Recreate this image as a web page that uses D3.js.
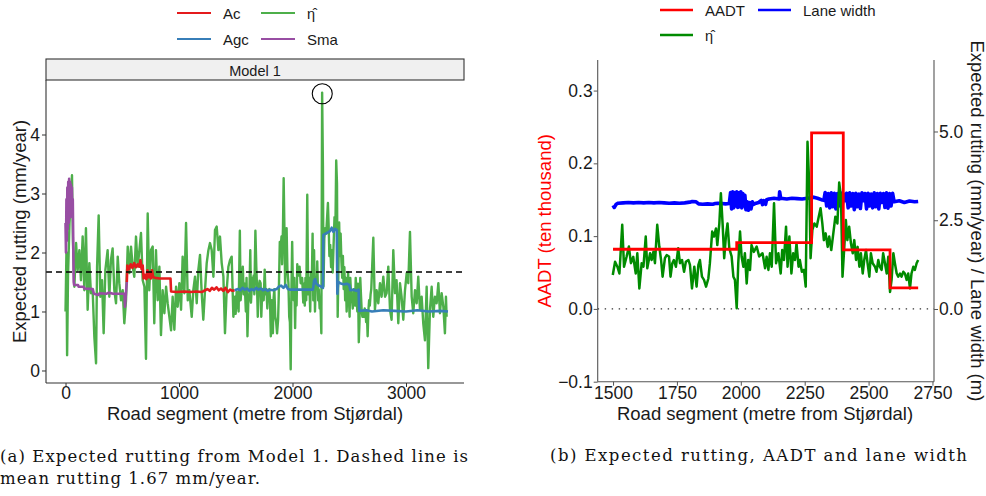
<!DOCTYPE html>
<html><head><meta charset="utf-8">
<script src="https://cdn.jsdelivr.net/npm/d3@7"></script>
<style>
body{margin:0;background:#fff}
svg{display:block}
text{font-family:"Liberation Sans",Arial,Helvetica,sans-serif}
.cap{font-family:"DejaVu Serif","Liberation Serif",serif}
</style>
</head><body>
<svg id="c" width="986" height="496"></svg>
<script>
// ---------- DATA ----------
const meanRutting = 1.67;
const leftXTicks = [0, 1000, 2000, 3000];
const leftYTicks = [0, 1, 2, 3, 4];
const rightXTicks = [1500, 1750, 2000, 2250, 2500, 2750];
const aadtTicks = [-0.1, 0.0, 0.1, 0.2, 0.3];
const aadtTickLabels = ["\u22120.1", "0.0", "0.1", "0.2", "0.3"];
const ruttingTicks = [0, 2.5, 5];
const ruttingTickLabels = ["0.0", "2.5", "5.0"];

// expected rutting eta-hat: [metre, mm/year]
const etaHat = [
[0,1.0],[8,2.0],[14,0.26],[22,1.6],[35,2.5],[50,3.0],[57,3.31],[65,2.2],[78,1.42],[93,2.16],[107,1.70],[122,2.04],[136,1.53],[151,2.27],[166,1.36],[180,2.41],[195,1.03],[210,1.82],[224,1.31],[239,1.36],[254,0.57],[269,0.12],[278,1.76],[292,2.63],[307,1.25],[322,1.53],[336,0.63],[351,1.70],[371,2.04],[386,1.25],[400,1.87],[415,2.07],[430,1.36],[445,1.14],[460,1.93],[474,1.48],[489,1.19],[504,1.36],[518,0.80],[533,1.19],[548,2.10],[562,1.65],[577,2.10],[592,1.76],[606,1.59],[621,2.27],[636,1.76],[651,2.04],[665,2.33],[680,1.53],[695,1.42],[709,0.20],[724,2.66],[738,1.36],[753,2.04],[768,2.10],[782,0.80],[797,2.04],[812,1.19],[827,1.76],[841,0.60],[856,1.36],[871,0.97],[886,1.42],[900,1.14],[915,0.91],[930,0.68],[944,1.25],[959,0.69],[974,1.42],[988,1.08],[1003,1.48],[1018,1.03],[1032,1.93],[1047,1.31],[1062,2.50],[1077,1.19],[1091,1.36],[1112,0.91],[1126,1.36],[1141,1.59],[1156,1.14],[1170,1.70],[1185,1.96],[1200,1.31],[1214,0.86],[1229,1.36],[1244,1.82],[1259,2.04],[1273,2.16],[1288,2.04],[1303,1.59],[1317,2.38],[1332,2.44],[1347,2.04],[1361,2.27],[1376,1.82],[1391,1.59],[1405,0.63],[1420,1.36],[1435,1.76],[1449,1.87],[1464,1.93],[1479,0.91],[1493,1.25],
[1499,0.96],[1508,1.33],[1517,1.19],[1525,1.00],[1536,2.37],[1543,1.19],[1553,1.47],[1562,1.76],[1570,1.29],[1579,1.47],[1589,1.00],[1595,1.57],[1603,0.58],[1612,1.29],[1619,1.19],[1628,2.04],[1634,1.15],[1645,1.57],[1651,1.38],[1658,1.61],[1664,1.29],[1673,2.37],[1681,1.76],[1688,1.38],[1694,0.91],[1703,1.43],[1710,1.52],[1719,1.48],[1725,0.91],[1732,1.29],[1738,1.38],[1746,1.19],[1755,1.71],[1762,1.29],[1770,1.38],[1778,1.05],[1785,1.33],[1795,1.38],[1801,1.24],[1809,0.58],[1818,1.19],[1827,0.63],[1834,1.24],[1840,1.38],[1848,0.91],[1856,0.82],[1864,0.63],[1873,0.86],[1879,1.29],[1888,2.18],[1895,2.04],[1903,2.27],[1908,1.80],[1916,2.41],[1922,3.26],[1929,2.37],[1935,1.43],[1942,2.08],[1948,2.41],[1955,1.71],[1964,1.48],[1971,0.91],[1977,0.82],[1984,0.02],[1990,1.29],[1997,2.18],[2003,1.48],[2010,1.19],[2016,1.57],[2023,0.72],[2029,1.38],[2036,1.10],[2042,1.80],[2051,1.61],[2062,1.76],[2072,1.48],
[2085,1.57],[2095,1.15],[2101,1.47],[2108,1.10],[2114,1.57],[2121,1.19],[2130,2.98],[2138,1.29],[2147,1.57],[2156,1.00],[2162,1.66],[2169,1.38],[2177,2.32],[2183,1.19],[2190,2.04],[2198,1.00],[2205,1.57],[2212,1.38],[2218,1.85],[2226,1.19],[2231,1.38],[2239,1.05],[2247,1.10],[2254,0.63],[2261,4.71],[2268,3.45],[2273,1.43],[2280,2.23],[2288,2.41],[2297,2.32],[2305,2.60],[2312,2.84],[2319,2.41],[2325,1.94],[2332,2.13],[2340,1.75],[2346,2.04],[2354,1.66],[2362,2.13],[2370,2.60],[2378,2.41],[2385,3.56],[2392,3.16],[2398,0.91],[2405,1.75],[2411,2.51],[2417,1.94],[2424,2.32],[2431,1.85],[2438,1.57],[2444,1.94],[2451,1.38],[2457,1.75],[2464,1.19],[2470,1.57],[2477,1.00],[2483,1.38],[2490,1.66],[2496,1.29],[2503,0.91],[2509,1.57],[2516,1.29],[2525,1.19],[2531,1.05],[2538,1.38],[2544,1.19],[2551,1.10],[2557,1.57],[2564,1.29],[2571,1.00],[2577,1.47],[2584,0.48],[2590,0.82],[2597,1.57],[2603,1.29],[2610,1.00],[2616,0.91],[2623,1.00],[2629,0.91],[2636,1.05],[2642,1.00],[2649,0.82],[2655,1.00],[2662,0.58],[2668,1.00],[2675,1.19],[2681,1.10],[2688,1.29],[2694,1.38],
[2712,2.25],[2726,1.03],[2741,1.36],[2756,1.14],[2771,1.48],[2785,1.25],[2800,1.59],[2815,1.25],[2829,1.31],[2844,1.76],[2859,1.03],[2873,0.86],[2888,2.04],[2903,1.31],[2917,1.53],[2932,0.80],[2947,1.48],[2961,1.25],[2976,0.86],[2991,1.36],[3006,1.65],[3020,1.48],[3035,2.35],[3050,1.25],[3064,0.97],[3079,1.36],[3094,1.14],[3108,1.59],[3123,1.03],[3138,1.25],[3152,0.80],[3167,0.51],[3182,1.42],[3196,0.04],[3211,1.03],[3226,1.42],[3240,0.91],[3255,1.25],[3270,1.14],[3285,1.48],[3299,0.97],[3314,1.31],[3329,1.08],[3343,0.63],[3352,1.25],[3358,0.91]
];

// surface-type series: [metre, mm/year]
const sma = [[0,2.5],[4,2.0],[8,2.9],[12,2.2],[16,3.1],[20,2.4],[24,3.2],[28,2.5],[32,3.25],[36,2.7],[40,3.2],[44,2.6],[48,3.15],[52,2.8],[56,3.1],[60,2.7],[64,2.9],[68,2.2],[72,1.5],[76,1.45],[110,1.45],[115,1.42],[160,1.42],[165,1.39],[240,1.38],[250,1.3],[290,1.28],[300,1.31],[360,1.3],[380,1.32],[420,1.3],[520,1.3],[524,1.08],[532,1.3],[540,1.5]];
const ac = [[540,1.5],[545,1.78],[560,1.72],[575,1.8],[590,1.74],[605,1.82],[620,1.75],[635,1.8],[650,1.76],[660,1.87],[670,1.72],[680,1.78],[688,1.56],[700,1.62],[712,1.55],[722,1.7],[732,1.58],[742,1.66],[752,1.56],[762,1.7],[772,1.58],[790,1.57],[830,1.56],[850,1.56],[900,1.56],[925,1.56],[930,1.34],[980,1.33],[1050,1.34],[1100,1.33],[1150,1.34],[1200,1.33],[1230,1.36],[1250,1.38],[1270,1.35],[1290,1.4],[1310,1.37],[1330,1.41],[1350,1.36],[1370,1.39],[1390,1.35],[1410,1.4],[1430,1.33],[1450,1.37],[1470,1.35],[1490,1.36]];
const agc = [[1490,1.36],[1520,1.38],[1540,1.36],[1560,1.4],[1580,1.37],[1600,1.39],[1620,1.35],[1640,1.38],[1660,1.36],[1680,1.4],[1700,1.37],[1720,1.39],[1740,1.36],[1760,1.38],[1780,1.35],[1800,1.37],[1830,1.36],[1860,1.38],[1880,1.42],[1900,1.44],[1920,1.4],[1940,1.45],[1960,1.38],[1980,1.37],[2050,1.37],[2100,1.37],[2180,1.37],[2190,1.52],[2200,1.55],[2210,1.47],[2230,1.44],[2255,1.42],[2268,1.4],[2272,2.3],[2300,2.33],[2330,2.36],[2345,2.42],[2360,2.35],[2375,2.4],[2390,2.38],[2395,1.3],[2402,1.5],[2420,1.48],[2450,1.46],[2480,1.47],[2500,1.45],[2510,1.36],[2540,1.37],[2560,1.35],[2582,1.37],[2588,1.01],[2650,1.02],[2700,1.0],[2800,1.02],[2900,1.01],[3000,1.0],[3100,1.02],[3200,1.0],[3300,1.01],[3370,1.0]];
const spikeMark = [2262, 4.69];

// AADT (ten thousand), step segments
const aadt = [[1500,0.082],[1984,0.091],[2277,0.242],[2401,0.081],[2584,0.029],[2694,0.029]];
// lane width (m)
const laneWidth = [[1500,2.92],[1505,2.86],[1512,2.95],[1520,2.98],[1540,2.99],[1560,3.0],[1580,2.99],[1600,3.0],[1620,2.99],[1640,3.0],[1660,2.99],[1680,3.0],[1700,2.99],[1720,2.98],[1740,2.99],[1760,2.98],[1780,2.99],[1800,3.01],[1810,3.03],[1825,3.02],[1835,2.96],[1850,2.95],[1870,2.96],[1890,2.95],[1900,2.97],[1910,2.98],[1925,2.97],[1940,2.96],[1955,2.97],
[1960,3.28],[1964,2.82],[1968,3.3],[1972,2.85],[1976,3.28],[1980,2.9],[1984,3.3],[1988,2.86],[1992,3.27],[1996,2.88],[2000,3.3],[2004,2.85],[2008,3.25],[2012,2.9],[2016,3.2],
[2020,2.8],[2025,3.02],[2030,2.78],[2035,3.0],[2040,2.82],[2045,3.02],[2050,2.95],[2060,2.98],[2070,3.0],[2080,3.06],[2085,2.94],[2090,3.05],[2097,2.95],[2101,3.08],
[2110,3.1],[2130,3.12],[2150,3.1],[2152,3.3],[2156,3.12],[2180,3.1],[2200,3.12],[2220,3.11],[2240,3.1],[2260,3.12],[2271,3.13],[2285,3.15],[2300,3.12],[2315,3.08],[2325,3.06],
[2330,3.28],[2336,2.9],[2342,3.25],[2348,2.85],[2354,3.27],[2360,2.88],[2366,3.26],[2372,2.82],[2378,3.25],[2384,2.9],[2390,3.27],[2396,2.86],[2402,3.24],[2408,3.05],[2414,3.26],[2420,2.85],[2426,3.27],[2432,2.9],[2438,3.25],[2444,2.8],[2450,3.26],[2456,2.88],[2462,3.24],[2468,2.83],[2474,3.27],[2480,3.05],[2486,3.25],[2492,2.82],[2498,3.26],[2504,2.9],[2510,3.24],[2516,2.85],[2522,3.27],[2528,2.88],[2534,3.25],[2540,2.82],[2546,3.26],[2552,3.0],[2558,3.25],[2564,2.86],[2570,3.27],[2576,2.84],[2582,3.25],[2588,2.9],[2594,3.26],
[2600,3.02],[2620,3.05],[2640,3.0],[2660,3.04],[2680,3.02],[2694,3.03]];

const leftLegend = [
  {label:"Ac", color:"#E41A1C"}, {label:"\u03B7\u0302", color:"#4DAF4A"},
  {label:"Agc", color:"#377EB8"}, {label:"Sma", color:"#984EA3"}];
const rightLegend = [
  {label:"AADT", color:"#FF0000"}, {label:"Lane width", color:"#0000FF"},
  {label:"\u03B7\u0302", color:"#008B00"}];

// ---------- DRAW ----------
const svg = d3.select("#c");
const TXT = "#1a1a1a", AX = "#333";
const FS = 18.5, TFS = 17.5;

function legendLabel(g, x, y, label) {
  const t = g.append("text").attr("x", x).attr("y", y).attr("font-size", 15).attr("fill", TXT).text(label);
  if (label.length === 2 && label.charCodeAt(1) === 0x302) {
    t.attr("font-family", "DejaVu Sans, sans-serif").attr("font-size", 14.5);
  }
}

// ===== Left panel =====
const L = {x0:46, x1:464, y0:80, y1:383};
const xL = d3.scaleLinear().domain([-172, 3511]).range([L.x0, L.x1]);
const yL = d3.scaleLinear().domain([-0.212, 4.924]).range([L.y1, L.y0]);
const gL = svg.append("g");
const lineL = d3.line().x(d => xL(d[0])).y(d => yL(d[1]));

// strip
gL.append("rect").attr("x", L.x0).attr("y", 59).attr("width", L.x1 - L.x0).attr("height", 21)
  .attr("fill", "#f0f0f0").attr("stroke", "#333").attr("stroke-width", 1.1);
gL.append("text").attr("x", (L.x0 + L.x1) / 2).attr("y", 75.5).attr("text-anchor", "middle")
  .attr("font-size", 14.5).attr("fill", TXT).text("Model 1");

// series
gL.append("path").datum(etaHat).attr("d", lineL).attr("fill", "none")
  .attr("stroke", "#4DAF4A").attr("stroke-width", 2.4).attr("stroke-linejoin", "round");
[[sma, "#984EA3"], [ac, "#E41A1C"], [agc, "#377EB8"]].forEach(([d, c]) => {
  gL.append("path").datum(d).attr("d", lineL).attr("fill", "none")
    .attr("stroke", c).attr("stroke-width", 2.6).attr("stroke-linejoin", "round");
});
// mean line
gL.append("line").attr("x1", L.x0).attr("x2", L.x1)
  .attr("y1", yL(meanRutting)).attr("y2", yL(meanRutting))
  .attr("stroke", "#000").attr("stroke-width", 1.4).attr("stroke-dasharray", "6 4");
// circle
gL.append("circle").attr("cx", xL(spikeMark[0])).attr("cy", yL(spikeMark[1])).attr("r", 10)
  .attr("fill", "none").attr("stroke", "#000").attr("stroke-width", 1.1);

// axes
const axL = gL.append("g").attr("transform", `translate(${L.x0},0)`)
  .call(d3.axisLeft(yL).tickValues(leftYTicks).tickSize(4).tickPadding(2).tickFormat(d3.format("d")));
const axB = gL.append("g").attr("transform", `translate(0,${L.y1})`)
  .call(d3.axisBottom(xL).tickValues(leftXTicks).tickSize(4).tickPadding(0).tickFormat(d3.format("d")));
[axL, axB].forEach(a => {
  a.select(".domain").remove();
  a.selectAll("line").attr("stroke", AX);
  a.selectAll("text").attr("font-size", TFS).attr("fill", TXT).attr("font-family", "Liberation Sans, Arial, sans-serif");
});
gL.append("line").attr("x1", L.x0).attr("x2", L.x0).attr("y1", L.y0).attr("y2", L.y1).attr("stroke", AX).attr("stroke-width", 1.1);
gL.append("line").attr("x1", L.x0).attr("x2", L.x1).attr("y1", L.y1).attr("y2", L.y1).attr("stroke", AX).attr("stroke-width", 1.1);

gL.append("text").attr("x", (L.x0 + L.x1) / 2).attr("y", 420).attr("text-anchor", "middle")
  .attr("font-size", FS).attr("fill", TXT).text("Road segment (metre from Stjørdal)");
gL.append("text").attr("transform", `translate(26,${(L.y0 + L.y1) / 2}) rotate(-90)`)
  .attr("text-anchor", "middle").attr("font-size", FS).attr("fill", TXT).text("Expected rutting (mm/year)");

// legend
leftLegend.forEach((it, i) => {
  const col = i % 2, row = Math.floor(i / 2);
  const lx = 177 + col * 84, ly = 13 + row * 26;
  gL.append("line").attr("x1", lx).attr("x2", lx + 34).attr("y1", ly).attr("y2", ly)
    .attr("stroke", it.color).attr("stroke-width", 2.2);
  legendLabel(gL, lx + 46, ly + 5.5, it.label);
});

// caption a
svg.append("text").attr("class", "cap").attr("x", 0).attr("y", 462).attr("font-size", 16.5)
  .attr("fill", "#111").attr("textLength", 468).attr("lengthAdjust", "spacing")
  .text("(a) Expected rutting from Model 1. Dashed line is");
svg.append("text").attr("class", "cap").attr("x", 0).attr("y", 484).attr("font-size", 16.5)
  .attr("fill", "#111").attr("textLength", 260).attr("lengthAdjust", "spacing")
  .text("mean rutting 1.67 mm/year.");

// ===== Right panel =====
const R = {x0:597.7, x1:934, y0:60, y1:381.7};
const xR = d3.scaleLinear().domain([1440, 2756]).range([R.x0, R.x1]);
const yA = d3.scaleLinear().domain([-0.1, 0.342]).range([R.y1, R.y0]);
const yR = d3.scaleLinear().domain([-2.048, 7.014]).range([R.y1, R.y0]);
const gR = svg.append("g");

// zero dotted line
gR.append("line").attr("x1", R.x0).attr("x2", R.x1).attr("y1", yA(0)).attr("y2", yA(0))
  .attr("stroke", "#333").attr("stroke-width", 1.4).attr("stroke-dasharray", "1.4 5.6");

gR.append("path").datum(laneWidth)
  .attr("d", d3.line().x(d => xR(d[0])).y(d => yR(d[1])))
  .attr("fill", "none").attr("stroke", "#0000FF").attr("stroke-width", 3.6).attr("stroke-linejoin", "round");
gR.append("path").datum(etaHat.filter(d => d[0] >= 1495 && d[0] <= 2700))
  .attr("d", d3.line().x(d => xR(d[0])).y(d => yR(d[1])))
  .attr("fill", "none").attr("stroke", "#008B00").attr("stroke-width", 2.5).attr("stroke-linejoin", "round");
gR.append("path").datum(aadt)
  .attr("d", d3.line().curve(d3.curveStepAfter).x(d => xR(d[0])).y(d => yA(d[1])))
  .attr("fill", "none").attr("stroke", "#FF0000").attr("stroke-width", 2.8);

const axRL = gR.append("g").attr("transform", `translate(${R.x0},0)`)
  .call(d3.axisLeft(yA).tickValues(aadtTicks).tickSize(4).tickPadding(1).tickFormat((d, i) => aadtTickLabels[i]));
const axRR = gR.append("g").attr("transform", `translate(${R.x1},0)`)
  .call(d3.axisRight(yR).tickValues(ruttingTicks).tickSize(4).tickPadding(1).tickFormat((d, i) => ruttingTickLabels[i]));
const axRB = gR.append("g").attr("transform", `translate(0,${R.y1})`)
  .call(d3.axisBottom(xR).tickValues(rightXTicks).tickSize(4).tickPadding(0.5).tickFormat(d3.format("d")));
[axRL, axRR, axRB].forEach(a => {
  a.select(".domain").remove();
  a.selectAll("line").attr("stroke", "#555");
  a.selectAll("text").attr("font-size", TFS).attr("fill", TXT).attr("font-family", "Liberation Sans, Arial, sans-serif");
});
gR.append("line").attr("x1", R.x0).attr("x2", R.x0).attr("y1", R.y0).attr("y2", R.y1).attr("stroke", "#555").attr("stroke-width", 1.1);
gR.append("line").attr("x1", R.x1).attr("x2", R.x1).attr("y1", R.y0).attr("y2", R.y1).attr("stroke", "#555").attr("stroke-width", 1.1);
gR.append("line").attr("x1", R.x0).attr("x2", R.x1).attr("y1", R.y1).attr("y2", R.y1).attr("stroke", "#555").attr("stroke-width", 1.1);

gR.append("text").attr("x", 765).attr("y", 420).attr("text-anchor", "middle")
  .attr("font-size", FS).attr("fill", TXT).text("Road segment (metre from Stjørdal)");
gR.append("text").attr("transform", `translate(551,${(R.y0 + R.y1) / 2}) rotate(-90)`)
  .attr("text-anchor", "middle").attr("font-size", FS).attr("fill", "#FF0000").text("AADT (ten thousand)");
gR.append("text").attr("transform", `translate(970.5,${(R.y0 + R.y1) / 2}) rotate(90)`)
  .attr("text-anchor", "middle").attr("font-size", FS).attr("fill", TXT)
  .text("Expected rutting (mm/year) / Lane width (m)");

rightLegend.forEach((it, i) => {
  const col = i % 2, row = Math.floor(i / 2);
  const lx = 660 + col * 98, ly = 10 + row * 25;
  gR.append("line").attr("x1", lx).attr("x2", lx + 33).attr("y1", ly).attr("y2", ly)
    .attr("stroke", it.color).attr("stroke-width", 2.4);
  legendLabel(gR, lx + 45, ly + 5.5, it.label);
});

svg.append("text").attr("class", "cap").attr("x", 550).attr("y", 461).attr("font-size", 16.5)
  .attr("fill", "#111").attr("textLength", 417).attr("lengthAdjust", "spacing")
  .text("(b) Expected rutting, AADT and lane width");
</script>
</body></html>
